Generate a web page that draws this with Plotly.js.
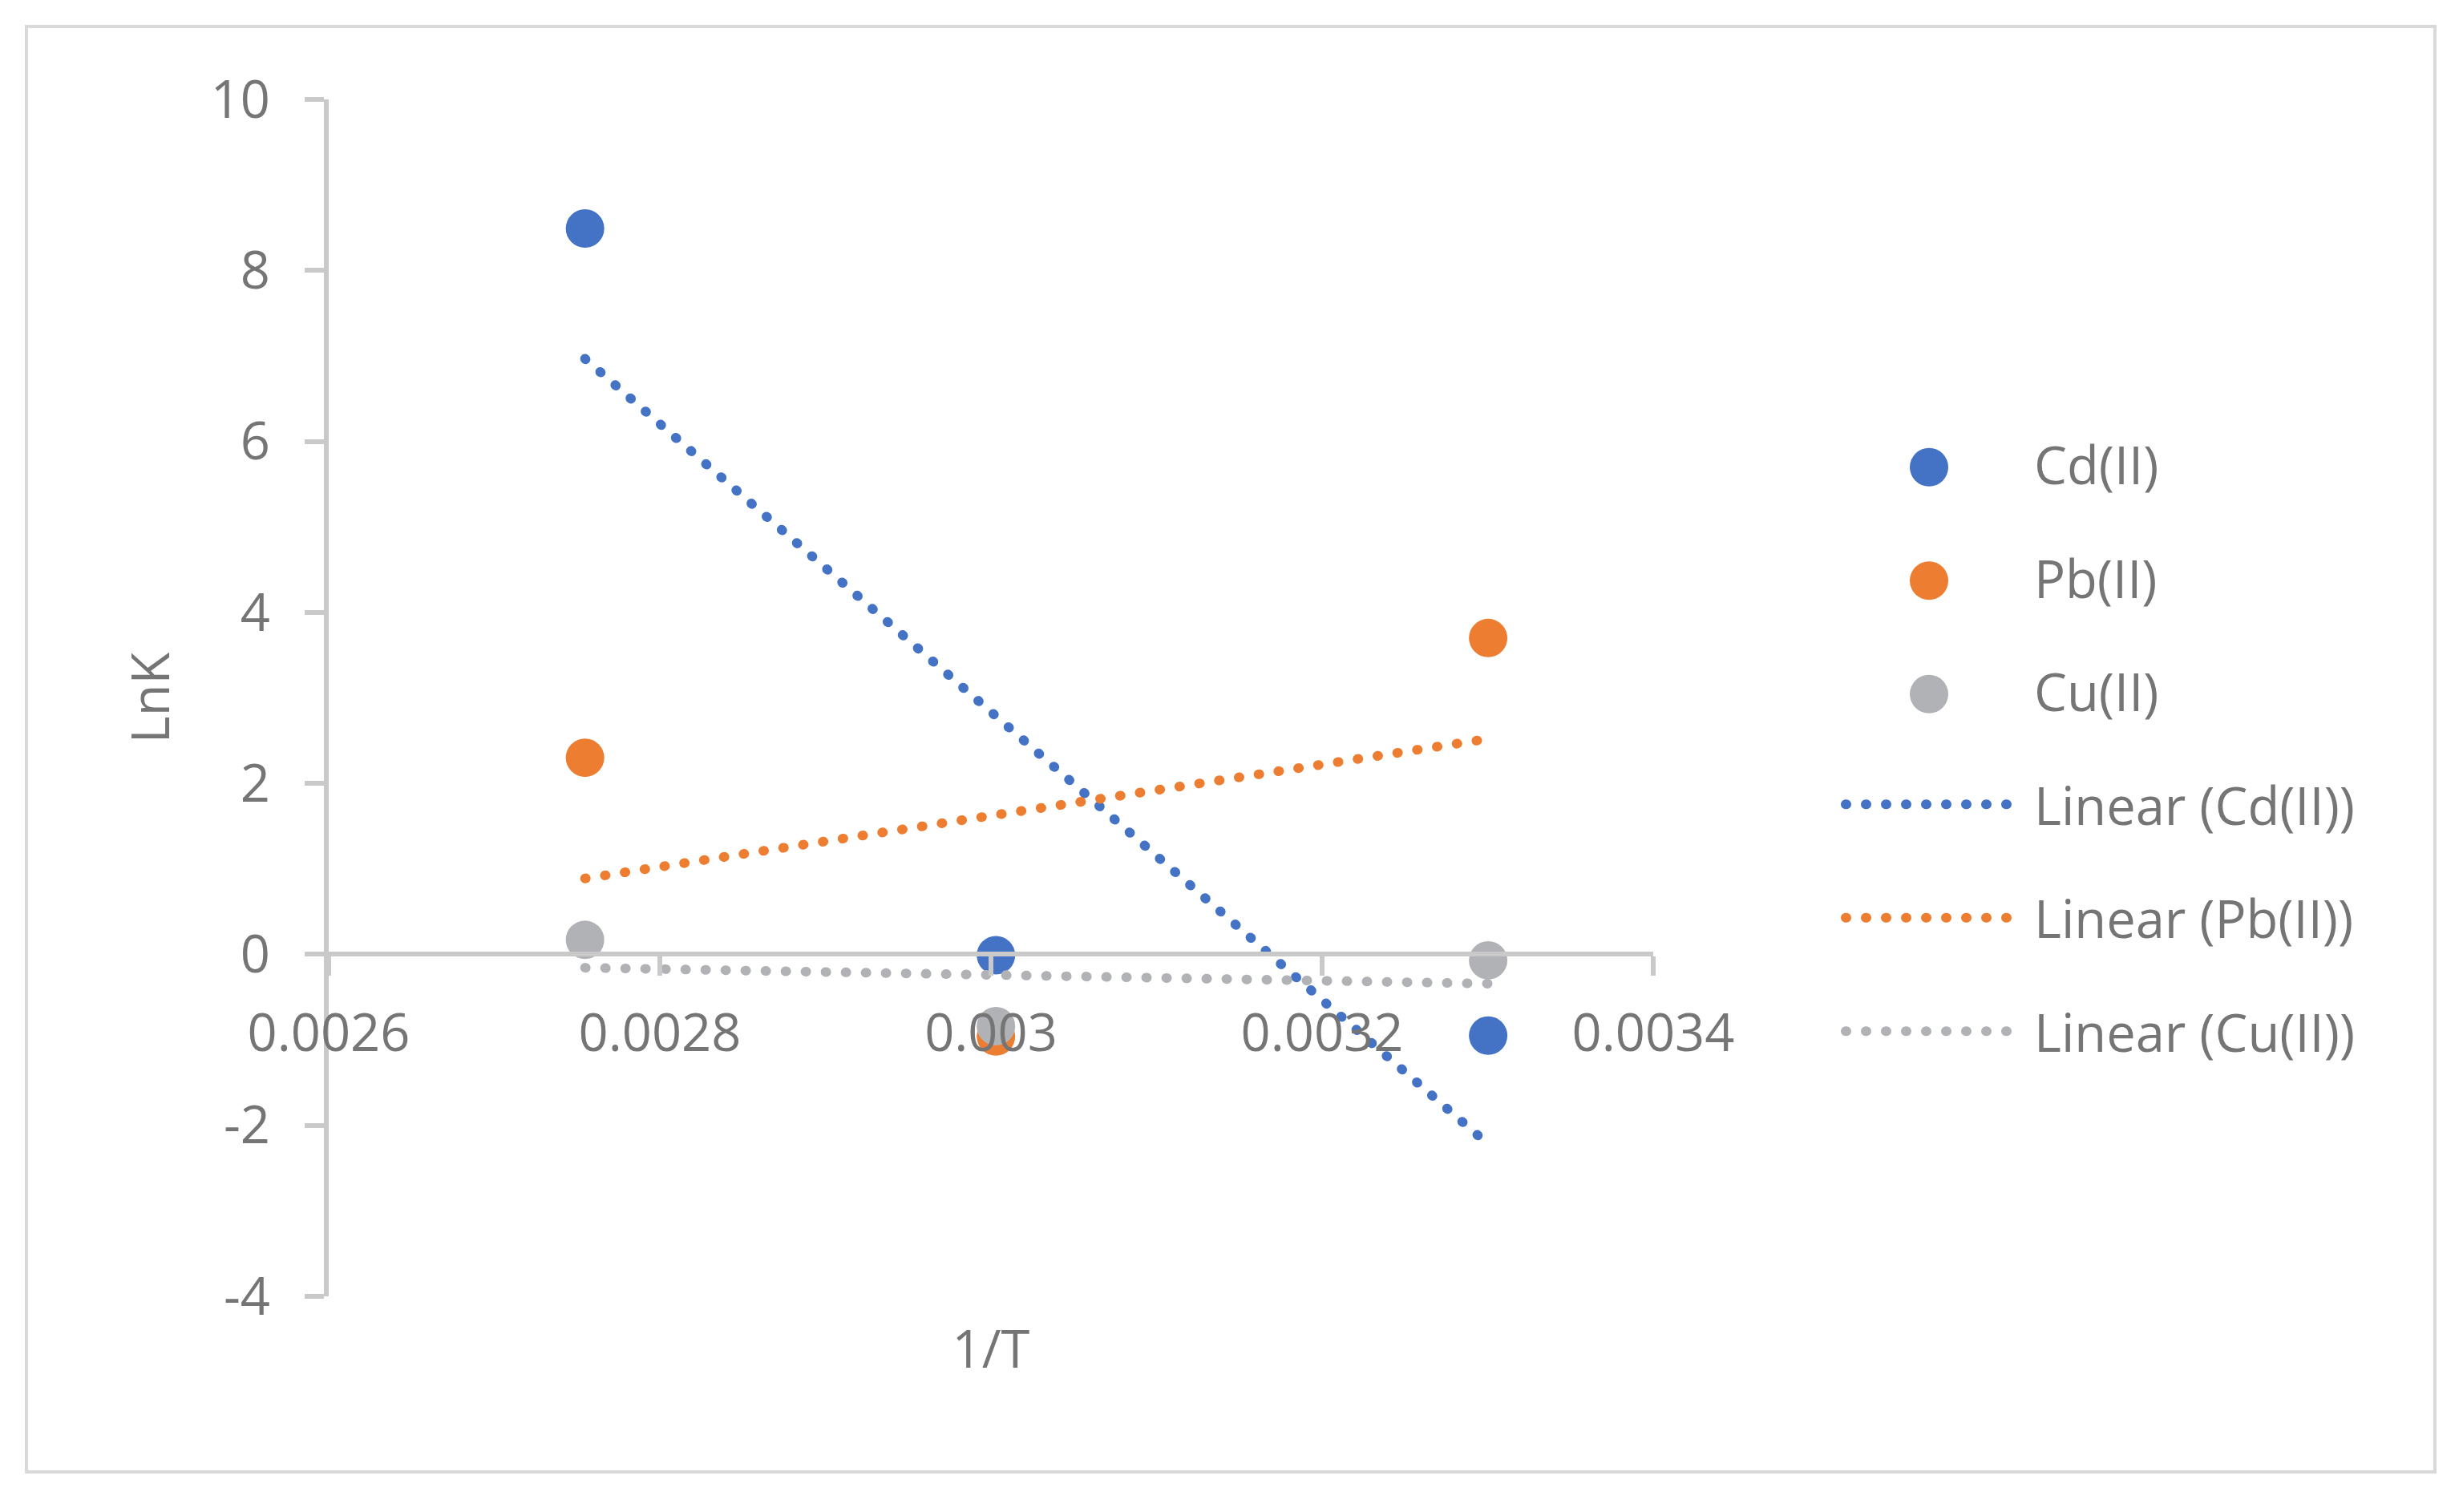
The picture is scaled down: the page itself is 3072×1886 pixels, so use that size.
<!DOCTYPE html>
<html><head><meta charset="utf-8">
<script src="https://cdn.plot.ly/plotly-3.0.1.min.js"></script>
<style>
html,body{margin:0;padding:0;background:#fff;}
.scatterlayer .js-line{stroke-linecap:round !important;}
.legend .js-line{stroke-linecap:round !important;}
</style></head>
<body><div id="chart" style="width:3072px;height:1886px;"></div>
<script>
// ---- data ----
const invT = [0.0027548, 0.0030030, 0.0033003];
const cdLnK = [8.49, -0.01, -0.95];
const pbLnK = [2.30, -0.96, 3.70];
const cuLnK = [0.17, -0.84, -0.07];
const seriesNames = ['Cd(II)', 'Pb(II)', 'Cu(II)'];
const xTickVals = [0.0026, 0.0028, 0.0030, 0.0032, 0.0034];
const xTickText = ['0.0026', '0.0028', '0.003', '0.0032', '0.0034'];
const yTickVals = [-4, -2, 0, 2, 4, 6, 8, 10];
const yTickText = ['-4', '-2', '0', '2', '4', '6', '8', '10'];

// ---- styles ----
const colors = ['#4472C4', '#ED7D31', '#B1B2B5'];
const textColor = '#757575';
const axisColor = '#C9C9C9';
const FONT = '"Open Sans", "Noto Sans", sans-serif';
const FS = 65;
const ITEMW = 250;

function linearFit(xs, ys) {
  const n = xs.length;
  const mx = xs.reduce((a, b) => a + b, 0) / n;
  const my = ys.reduce((a, b) => a + b, 0) / n;
  let sxy = 0, sxx = 0;
  for (let i = 0; i < n; i++) { sxy += (xs[i] - mx) * (ys[i] - my); sxx += (xs[i] - mx) ** 2; }
  const b = sxy / sxx, a = my - b * mx;
  const x0 = Math.min(...xs), x1 = Math.max(...xs);
  return { x: [x0, x1], y: [a + b * x0, a + b * x1] };
}

const ys = [cdLnK, pbLnK, cuLnK];
const traces = [];
ys.forEach((y, i) => {
  traces.push({
    type: 'scatter', mode: 'markers', x: invT, y: y, name: seriesNames[i],
    legendgroup: 'm' + i,
    marker: { color: colors[i], size: 48 },
    cliponaxis: false
  });
});
ys.forEach((y, i) => {
  const f = linearFit(invT, y);
  traces.push({
    type: 'scatter', mode: 'lines', x: f.x, y: f.y, name: 'Linear (' + seriesNames[i] + ')',
    legendgroup: 'l' + i,
    line: { color: colors[i], width: 12, dash: '1px,24px' },
    cliponaxis: false
  });
});

// plot area: x 410..2062, y 124..1617
const L = 410, T = 124, R = 3072 - 2062, B = 1886 - 1617;
const PW = 3072 - L - R, PH = 1886 - T - B;
const px = v => (v - L) / PW;
const py = v => (1886 - B - v) / PH;

const layout = {
  width: 3072, height: 1886,
  paper_bgcolor: '#fff', plot_bgcolor: '#fff',
  margin: { l: L, r: R, t: T, b: B },
  font: { family: FONT, size: FS, color: textColor },
  showlegend: true,
  legend: {
    x: px(2537 - ITEMW - 10), xanchor: 'left', y: py(530), yanchor: 'top',
    traceorder: 'grouped', tracegroupgap: 54, itemwidth: ITEMW,
    font: { family: FONT, size: FS, color: textColor },
    bgcolor: 'rgba(0,0,0,0)'
  },
  xaxis: {
    range: [0.0026, 0.0034], anchor: 'free', position: 4 / 14,
    tickmode: 'array', tickvals: xTickVals, ticktext: xTickText,
    showgrid: false, zeroline: false,
    showline: true, linecolor: axisColor, linewidth: 6,
    ticks: 'outside', ticklen: 24, tickwidth: 6, tickcolor: axisColor,
    ticklabelstandoff: 16,
    tickfont: { family: FONT, size: FS, color: textColor },
    title: { text: '1/T', font: { family: FONT, size: FS, color: textColor }, standoff: 330 }
  },
  yaxis: {
    range: [-4, 10], anchor: 'x',
    tickmode: 'array', tickvals: yTickVals, ticktext: yTickText,
    showgrid: false, zeroline: false,
    showline: true, linecolor: axisColor, linewidth: 6,
    ticks: 'outside', ticklen: 24, tickwidth: 6, tickcolor: axisColor,
    ticklabelstandoff: 30,
    tickfont: { family: FONT, size: FS, color: textColor },
    title: { text: 'LnK', font: { family: FONT, size: FS, color: textColor }, standoff: 32 }
  },
  shapes: [{
    type: 'rect', xref: 'paper', yref: 'paper', layer: 'below',
    x0: px(33), x1: px(3037), y0: py(1836), y1: py(33),
    line: { color: '#D9D9D9', width: 4 }, fillcolor: 'rgba(0,0,0,0)'
  }]
};

Plotly.newPlot('chart', traces, layout, { staticPlot: true }).then(gd => {
  gd.querySelectorAll('.legend .traces').forEach(tr => {
    const text = tr.querySelector('text.legendtext');
    if (!text) return;
    const tx = parseFloat(text.getAttribute('x')) || (ITEMW + 10);
    const pt = tr.querySelector('path.scatterpts');
    if (pt) {
      pt.setAttribute('d', 'M24,0A24,24 0 1,1 0,-24A24,24 0 0,1 24,0Z');
      pt.setAttribute('transform', 'translate(' + (tx - 131) + ',4)');
    }
    const ln = tr.querySelector('.legendlines path');
    if (ln) {
      ln.setAttribute('d', 'M' + (tx - 235) + ',0H' + (tx - 26));
      ln.style.strokeWidth = '12px';
    }
  });
});
</script>
</body></html>
